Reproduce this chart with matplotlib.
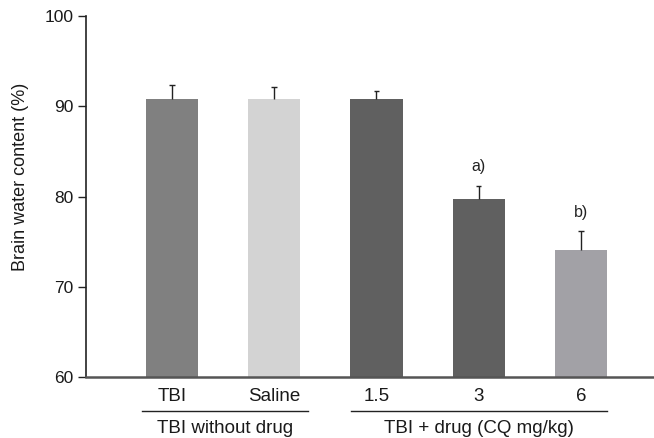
import matplotlib
matplotlib.use("Agg")
import matplotlib.pyplot as plt
from matplotlib import font_manager

names = {f.name for f in font_manager.fontManager.ttflist}
fam = ['Liberation Sans Narrow', 'DejaVu Sans'] if 'Liberation Sans Narrow' in names else ['Liberation Sans', 'DejaVu Sans']
plt.rcParams['font.family'] = fam

categories = ["TBI", "Saline", "1.5", "3", "6"]
values = [90.8, 90.8, 90.8, 79.7, 74.05]
err_upper = [1.55, 1.4, 0.9, 1.5, 2.1]
colors = ["#808080", "#d3d3d3", "#606060", "#606060", "#a2a1a6"]
annotations = ["", "", "", "a)", "b)"]
group_labels = ["TBI without drug", "TBI + drug (CQ mg/kg)"]
yticks = [60, 70, 80, 90, 100]

fig = plt.figure(figsize=(6.54, 4.38), dpi=100)
ax = fig.add_axes([0.131, 0.139, 0.869, 0.824])

x = list(range(len(categories)))
ax.bar(x, [v - 60 for v in values], bottom=60, width=0.51, color=colors, zorder=2)

tops = [v + e for v, e in zip(values, err_upper)]
ax.vlines(x, values, tops, color="#222222", lw=1.0, zorder=3)
ax.hlines(tops, [xi - 0.027 for xi in x], [xi + 0.027 for xi in x], color="#222222", lw=1.0, zorder=3)

for xi, t, a in zip(x, tops, annotations):
    if a:
        ax.text(xi, t + 1.3, a, ha="center", va="bottom", fontsize=11.5, color="#222222")

ax.set_ylim(60, 100)
ax.set_xlim(-0.844, 4.714)
ax.set_yticks(yticks)
ax.set_yticklabels([str(t) for t in yticks])
ax.set_xticks(x)
ax.set_xticklabels(categories)
ax.tick_params(axis="x", length=0, pad=8, labelsize=13.5, labelcolor="#1a1a1a")
ax.tick_params(axis="y", length=6, width=1.0, pad=3, labelsize=12.5, labelcolor="#1a1a1a", color="#222222")

ax.spines["top"].set_visible(False)
ax.spines["right"].set_visible(False)
ax.spines["left"].set_color("#222222")
ax.spines["left"].set_linewidth(1.2)
ax.spines["bottom"].set_color("#555555")
ax.spines["bottom"].set_linewidth(1.8)

ax.set_ylabel("Brain water content (%)", fontsize=13, color="#1a1a1a")
ax.yaxis.set_label_coords(-0.10, 0.554)

trans = ax.get_xaxis_transform()
spans = [(-0.296, 1.333), (1.75, 4.25)]
for (x0, x1), lab in zip(spans, group_labels):
    ax.plot([x0, x1], [-0.095, -0.095], transform=trans, color="#222222", lw=1.0, clip_on=False)
    ax.text((x0 + x1) / 2, -0.155, lab, transform=trans, ha="center", va="baseline",
            fontsize=13.5, color="#1a1a1a")

fig.savefig("out.png", dpi=100)
